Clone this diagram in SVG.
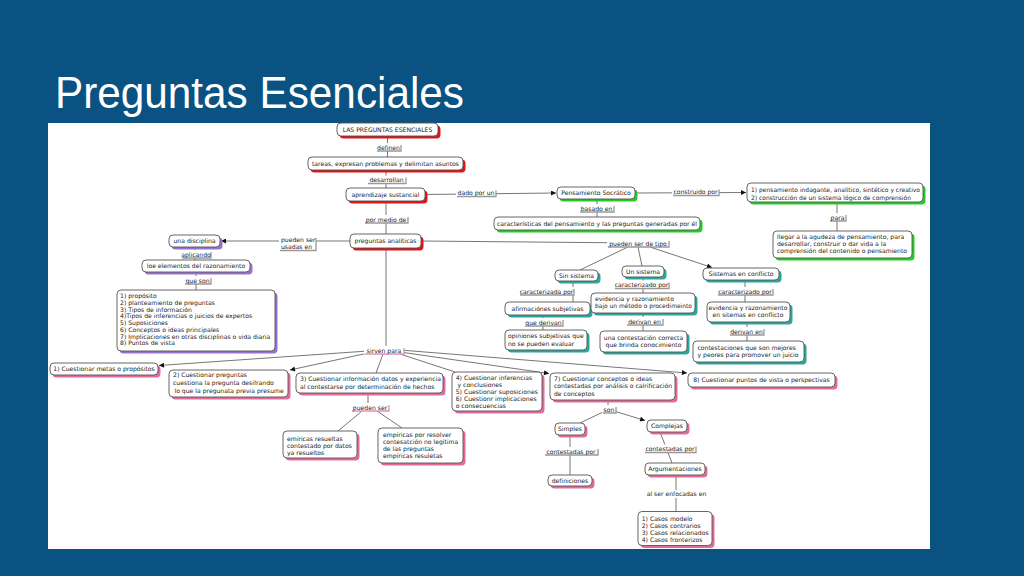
<svg xmlns="http://www.w3.org/2000/svg" width="1024" height="576" viewBox="0 0 1024 576">
<style>
.t{font-family:"DejaVu Sans",Verdana,sans-serif;font-size:6.1px;fill:#222}
.c{text-anchor:middle}
.n{fill:#fff;stroke:#555;stroke-width:0.9}
.sr{fill:#e01414}.sg{fill:#22cc22}.sp{fill:#9a70d0}.st{fill:#2aa69c}.sk{fill:#e46a9c}
.ln{stroke:#777;stroke-width:1;fill:none}
.lb{fill:#fff}
.ls{stroke:#999;stroke-width:1.3;fill:none}
.lk{stroke:#e58fb2;stroke-width:1.3;fill:none}
</style>
<defs>
<marker id="ar" viewBox="0 0 6 6" refX="6" refY="3" markerWidth="6" markerHeight="5" markerUnits="userSpaceOnUse" orient="auto"><path d="M0,0 L6,3 L0,6 z" fill="#111"/></marker>
</defs>
<rect width="1024" height="576" fill="#0a5282"/>
<text x="55" y="108" font-family="'Liberation Sans',Arial,sans-serif" font-size="44" fill="#fff" textLength="409" lengthAdjust="spacingAndGlyphs">Preguntas Esenciales</text>
<rect x="48" y="123" width="882" height="426" fill="#fff"/>

<g id="connectors" class="ln">
<path d="M387.5,136 V157"/>
<path d="M386,170 V188"/>
<path d="M386,201 V234"/>
<path d="M425,194.5 L556,193" marker-end="url(#ar)"/>
<path d="M635,193 L746,192.5" marker-end="url(#ar)"/>
<path d="M597,199 V217"/>
<path d="M837,202 V231"/>
<path d="M350,241 L221,241" marker-end="url(#ar)"/>
<path d="M195,247 V260"/>
<path d="M196,272 V290"/>
<path d="M421,241 L638,243"/>
<path d="M628,247 L580,270"/>
<path d="M638,247 L642,266"/>
<path d="M650,247 L712,267.5" marker-end="url(#ar)"/>
<path d="M573,281 V302"/>
<path d="M643,277 V293"/>
<path d="M745,280 V302"/>
<path d="M543,315 V330"/>
<path d="M643,313 V331"/>
<path d="M747,322 V341"/>
<path d="M386,248 V350"/>
<path d="M368,351 L159,365.5" marker-end="url(#ar)"/>
<path d="M368,353 L290,370" marker-end="url(#ar)"/>
<path d="M383,354 L376,373"/>
<path d="M400,354 L455,372"/>
<path d="M400,352 L549,373.5" marker-end="url(#ar)"/>
<path d="M400,350 L687,373" marker-end="url(#ar)"/>
<path d="M368,393 V411"/>
<path d="M362,411 L338,431"/>
<path d="M377,411 L402,428"/>
<path d="M608,400 V411"/>
<path d="M603,412 L580,423"/>
<path d="M614,411 L645,420.5" marker-end="url(#ar)"/>
<path d="M570,435 V475"/>
<path d="M660,432 L672,463"/>
<path d="M676,475 V512"/>
</g>

<g id="labels">
<g><rect class="lb" x="376" y="143" width="25" height="8"/><path class="ls" d="M377,151 H401 V145"/><text class="t c" x="388.5" y="149.5">definen</text></g>
<g><rect class="lb" x="367" y="175.5" width="39" height="8"/><path class="ls" d="M368,183.5 H406 V177.5"/><text class="t c" x="386.5" y="182">desarrollan</text></g>
<g><rect class="lb" x="364" y="215" width="44" height="8"/><path class="ls" d="M365,223 H408 V217"/><text class="t c" x="386" y="221.5">por medio de</text></g>
<g><rect class="lb" x="456" y="188.5" width="40" height="8"/><path class="ls" d="M457,196.5 H496 V190.5"/><text class="t c" x="476" y="195">dado por un</text></g>
<g><rect class="lb" x="672" y="187.5" width="47" height="8"/><path class="ls" d="M673,195.5 H719 V189.5"/><text class="t c" x="695.5" y="194">construido por</text></g>
<g><rect class="lb" x="579" y="204" width="35" height="8"/><path class="ls" d="M580,212 H614 V206"/><text class="t c" x="596.5" y="210.5">basado en</text></g>
<g><rect class="lb" x="829" y="213" width="17" height="8"/><path class="ls" d="M830,221 H846 V215"/><text class="t c" x="837.5" y="219.5">para</text></g>
<g><rect class="lb" x="279" y="236" width="37" height="14.5"/><path class="ls" d="M280,250.5 H316 V238"/><text class="t" x="281" y="242">pueden ser</text><text class="t" x="281" y="249">usadas en</text></g>
<g><rect class="lb" x="181" y="250" width="30" height="8"/><path class="ls" d="M182,258 H211 V252"/><text class="t c" x="196" y="256.5">aplicando</text></g>
<g><rect class="lb" x="184" y="276" width="27" height="8"/><path class="ls" d="M185,284 H211 V278"/><text class="t c" x="197.5" y="282.5">que son</text></g>
<g><rect class="lb" x="607" y="239" width="62" height="8"/><path class="ls" d="M608,247 H669 V241"/><text class="t c" x="638" y="245.5">pueden ser de tipo</text></g>
<g><rect class="lb" x="519" y="287" width="55" height="8"/><path class="ls" d="M520,295 H574 V289"/><text class="t c" x="546.5" y="293.5">caracterizada por</text></g>
<g><rect class="lb" x="614" y="280.5" width="55" height="8"/><path class="ls" d="M615,288.5 H669 V282.5"/><text class="t c" x="641.5" y="287">caracterizado por</text></g>
<g><rect class="lb" x="717" y="287" width="56" height="8"/><path class="ls" d="M718,295 H773 V289"/><text class="t c" x="745" y="293.5">caracterizado por</text></g>
<g><rect class="lb" x="524" y="318" width="39" height="8"/><path class="ls" d="M525,326 H563 V320"/><text class="t c" x="543.5" y="324.5">que derivan</text></g>
<g><rect class="lb" x="626" y="317" width="37" height="8"/><path class="ls" d="M627,325 H663 V319"/><text class="t c" x="644.5" y="323.5">derivan en</text></g>
<g><rect class="lb" x="729" y="327" width="35" height="8"/><path class="ls" d="M730,335 H764 V329"/><text class="t c" x="746.5" y="333.5">derivan en</text></g>
<g><rect class="lb" x="364" y="346" width="40" height="8"/><path class="lk" d="M365,354 H404 V348"/><text class="t c" x="384" y="352.5">sirven para</text></g>
<g><rect class="lb" x="351" y="403" width="38" height="8"/><path class="lk" d="M352,411 H389 V405"/><text class="t c" x="370" y="409.5">pueden ser</text></g>
<g><rect class="lb" x="602" y="405" width="14" height="8"/><path class="ls" d="M603,413 H616 V407"/><text class="t c" x="609" y="411.5">son</text></g>
<g><rect class="lb" x="544" y="447" width="54" height="8"/><path class="ls" d="M545,455 H598 V449"/><text class="t c" x="571" y="453.5">contestadas por</text></g>
<g><rect class="lb" x="644" y="444.5" width="52" height="8"/><path class="ls" d="M645,452.5 H696 V446.5"/><text class="t c" x="670" y="451">contestadas por</text></g>
<g><rect class="lb" x="646" y="490" width="61" height="8"/><text class="t c" x="676.5" y="496">al ser enfocadas en</text></g>
</g>

<g id="n1"><rect class="sr" x="339.5" y="125.5" width="101" height="13" rx="4"/><rect class="n" x="337" y="123" width="101" height="13" rx="4"/><text class="t c" x="387.5" y="131.7">LAS PREGUNTAS ESENCIALES</text></g>
<g id="n2"><rect class="sr" x="310.5" y="159.5" width="155" height="13" rx="4"/><rect class="n" x="308" y="157" width="155" height="13" rx="4"/><text class="t c" x="385.5" y="165.7">tareas, expresan problemas y delimitan asuntos</text></g>
<g id="n3"><rect class="sr" x="348.5" y="190.5" width="79" height="13" rx="4"/><rect class="n" x="346" y="188" width="79" height="13" rx="4"/><text class="t c" x="385.5" y="196.7">aprendizaje sustancial</text></g>
<g id="n4"><rect class="sr" x="352.5" y="236.5" width="71" height="14" rx="4"/><rect class="n" x="350" y="234" width="71" height="14" rx="4"/><text class="t c" x="385.5" y="243.2">preguntas analíticas</text></g>
<g id="n5"><rect class="sg" x="559.5" y="189.5" width="78" height="12" rx="4"/><rect class="n" x="557" y="187" width="78" height="12" rx="4"/><text class="t c" x="596" y="195.2">Pensamiento Socrático</text></g>
<g id="n6"><rect class="sg" x="749.5" y="185.5" width="176" height="19" rx="4"/><rect class="n" x="747" y="183" width="176" height="19" rx="4"/><text class="t" x="751" y="191.8" textLength="169" lengthAdjust="spacingAndGlyphs">1) pensamiento indagante, analítico, sintético y creativo</text><text class="t" x="751" y="199.6" textLength="160" lengthAdjust="spacingAndGlyphs">2) construcción de un sistema lógico de comprensión</text></g>
<g id="n7"><rect class="sg" x="496.5" y="219.5" width="206" height="13" rx="4"/><rect class="n" x="494" y="217" width="206" height="13" rx="4"/><text class="t c" x="597" y="225.7">características del pensamiento y las preguntas generadas por él</text></g>
<g id="n8"><rect class="sg" x="775.5" y="233.5" width="139" height="27" rx="4"/><rect class="n" x="773" y="231" width="139" height="27" rx="4"/><text class="t" x="777" y="239">llegar a la agudeza de pensamiento, para</text><text class="t" x="777" y="246">desarrollar, construir o dar vida a la</text><text class="t" x="777" y="253">comprensión del contenido o pensamiento</text></g>
<g id="n9"><rect class="sp" x="171.5" y="237.5" width="51" height="12" rx="4"/><rect class="n" x="169" y="235" width="51" height="12" rx="4"/><text class="t c" x="194.5" y="243.2">una disciplina</text></g>
<g id="n10"><rect class="sp" x="144.5" y="262.5" width="108" height="12" rx="4"/><rect class="n" x="142" y="260" width="108" height="12" rx="4"/><text class="t c" x="196" y="268.2">loe elementos del razonamiento</text></g>
<g id="n11"><rect class="sp" x="119.5" y="292.5" width="158" height="61" rx="4"/><rect class="n" x="117" y="290" width="158" height="61" rx="4"/>
<text class="t" x="120" y="298">1) propósito</text><text class="t" x="120" y="304.8">2) planteamiento de preguntas</text><text class="t" x="120" y="311.5">3) Tipos de información</text><text class="t" x="120" y="318.3">4)Tipos de inferencias o juicios de expertos</text><text class="t" x="120" y="325">5) Suposiciones</text><text class="t" x="120" y="331.8">6) Conceptos o ideas principales</text><text class="t" x="120" y="338.5">7) Implicaciones en otras disciplinas o vida diaria</text><text class="t" x="120" y="345.3">8) Puntos de vista</text></g>
<g id="n12"><rect class="st" x="557.5" y="272.5" width="43" height="11" rx="4"/><rect class="n" x="555" y="270" width="43" height="11" rx="4"/><text class="t c" x="576.5" y="277.7">Sin sistema</text></g>
<g id="n13"><rect class="st" x="624.5" y="268.5" width="42" height="11" rx="4"/><rect class="n" x="622" y="266" width="42" height="11" rx="4"/><text class="t c" x="643" y="273.7">Un sistema</text></g>
<g id="n14"><rect class="st" x="705.5" y="270.5" width="76" height="12" rx="4"/><rect class="n" x="703" y="268" width="76" height="12" rx="4"/><text class="t c" x="741" y="276.2">Sistemas en conflicto</text></g>
<g id="n15"><rect class="st" x="507.5" y="304.5" width="85" height="13" rx="4"/><rect class="n" x="505" y="302" width="85" height="13" rx="4"/><text class="t c" x="547.5" y="310.7">afirmaciónes subjetivas</text></g>
<g id="n16"><rect class="st" x="593.5" y="295.5" width="104" height="20" rx="4"/><rect class="n" x="591" y="293" width="104" height="20" rx="4"/><text class="t" x="595" y="300.5">evidencia y razonamiento</text><text class="t" x="595" y="308" textLength="97" lengthAdjust="spacingAndGlyphs">bajo un método o procedimeinto</text></g>
<g id="n17"><rect class="st" x="709.5" y="304.5" width="83" height="20" rx="4"/><rect class="n" x="707" y="302" width="83" height="20" rx="4"/><text class="t c" x="748" y="310">evidencia y razonamiento</text><text class="t c" x="748" y="317">en sitemas en conflicto</text></g>
<g id="n18"><rect class="st" x="507.5" y="332.5" width="82" height="20" rx="4"/><rect class="n" x="505" y="330" width="82" height="20" rx="4"/><text class="t" x="508" y="338">opiniones subjetivas que</text><text class="t" x="508" y="346">no se pueden evaluar</text></g>
<g id="n19"><rect class="st" x="602.5" y="333.5" width="87" height="21" rx="4"/><rect class="n" x="600" y="331" width="87" height="21" rx="4"/><text class="t c" x="643.5" y="339.5">una contestación correcta</text><text class="t c" x="643.5" y="346.8">que brinda conocimiento</text></g>
<g id="n20"><rect class="st" x="695.5" y="343.5" width="111" height="21" rx="4"/><rect class="n" x="693" y="341" width="111" height="21" rx="4"/><text class="t" x="697.5" y="349.5">contestaciones que son mejores</text><text class="t" x="697.5" y="357">y peores para promover un juicio</text></g>
<g id="n21"><rect class="sk" x="52.5" y="365.5" width="108" height="12" rx="4"/><rect class="n" x="50" y="363" width="108" height="12" rx="4"/><text class="t c" x="104" y="371.2">1) Cuestionar metas o propósitos</text></g>
<g id="n22"><rect class="sk" x="171.5" y="372.5" width="119" height="27" rx="4"/><rect class="n" x="169" y="370" width="119" height="27" rx="4"/><text class="t" x="173" y="377">2) Cuestionar preguntas</text><text class="t" x="173" y="385">cuestiona la pregunta desifrando</text><text class="t" x="174.5" y="393">lo que la pregunata previa presume</text></g>
<g id="n23"><rect class="sk" x="298.5" y="375.5" width="147" height="20" rx="4"/><rect class="n" x="296" y="373" width="147" height="20" rx="4"/><text class="t" x="300" y="381">3) Cuestionar información datos y experiencia</text><text class="t" x="300" y="388.8">al contestarse por determinación de hechos</text></g>
<g id="n24"><rect class="sk" x="454.5" y="374.5" width="90" height="39" rx="4"/><rect class="n" x="452" y="372" width="90" height="39" rx="4"/><text class="t" x="455.7" y="380">4) Cuestionar inferencias</text><text class="t" x="457.5" y="387">y conclusiones</text><text class="t" x="455.7" y="394">5) Cuestionar suposiciones</text><text class="t" x="455.7" y="401">6) Cuestionr implicaciones</text><text class="t" x="455.7" y="408">o consecuencias</text></g>
<g id="n25"><rect class="sk" x="552.5" y="375.5" width="125" height="27" rx="4"/><rect class="n" x="550" y="373" width="125" height="27" rx="4"/><text class="t" x="554" y="381">7) Cuestionar conceptos o ideas</text><text class="t" x="554" y="388.3">contestadas por análisis o calrificación</text><text class="t" x="554" y="395.6">de conceptos</text></g>
<g id="n26"><rect class="sk" x="690.5" y="375.5" width="147" height="14" rx="4"/><rect class="n" x="688" y="373" width="147" height="14" rx="4"/><text class="t c" x="761.5" y="382.2">8) Cuestionar puntos de vista o perspectivas</text></g>
<g id="n27"><rect class="sk" x="285.5" y="433.5" width="74" height="27" rx="4"/><rect class="n" x="283" y="431" width="74" height="27" rx="4"/><text class="t" x="287" y="440.5">emíricas resueltas</text><text class="t" x="287" y="447.5">contestado por datos</text><text class="t" x="287" y="454.5">ya resueltos</text></g>
<g id="n28"><rect class="sk" x="380.5" y="430.5" width="85" height="35" rx="4"/><rect class="n" x="378" y="428" width="85" height="35" rx="4"/><text class="t" x="383" y="436.5">empíricas por resolver</text><text class="t" x="383" y="443.5">contesatción no legítima</text><text class="t" x="383" y="450.5">de las preguntas</text><text class="t" x="383" y="457.5">empíricas resuletas</text></g>
<g id="n29"><rect class="sk" x="557.5" y="425.5" width="30" height="12" rx="4"/><rect class="n" x="555" y="423" width="30" height="12" rx="4"/><text class="t c" x="570" y="431.2">Simples</text></g>
<g id="n30"><rect class="sk" x="649.5" y="422.5" width="40" height="12" rx="4"/><rect class="n" x="647" y="420" width="40" height="12" rx="4"/><text class="t c" x="667" y="428.2">Complejas</text></g>
<g id="n31"><rect class="sk" x="550.5" y="477.5" width="44" height="11" rx="4"/><rect class="n" x="548" y="475" width="44" height="11" rx="4"/><text class="t c" x="570" y="482.7">definiciones</text></g>
<g id="n32"><rect class="sk" x="647.5" y="465.5" width="60" height="12" rx="4"/><rect class="n" x="645" y="463" width="60" height="12" rx="4"/><text class="t c" x="675" y="471.2">Argumentaciones</text></g>
<g id="n33"><rect class="sk" x="640.5" y="514" width="74" height="34" rx="4"/><rect class="n" x="638" y="511.5" width="74" height="34" rx="4"/><text class="t" x="641.7" y="520.5">1) Casos modelo</text><text class="t" x="641.7" y="527.5">2) Casos contrarios</text><text class="t" x="641.7" y="534.5">3) Casos relacionados</text><text class="t" x="641.7" y="541.5">4) Casos fronterizos</text></g>
</svg>
